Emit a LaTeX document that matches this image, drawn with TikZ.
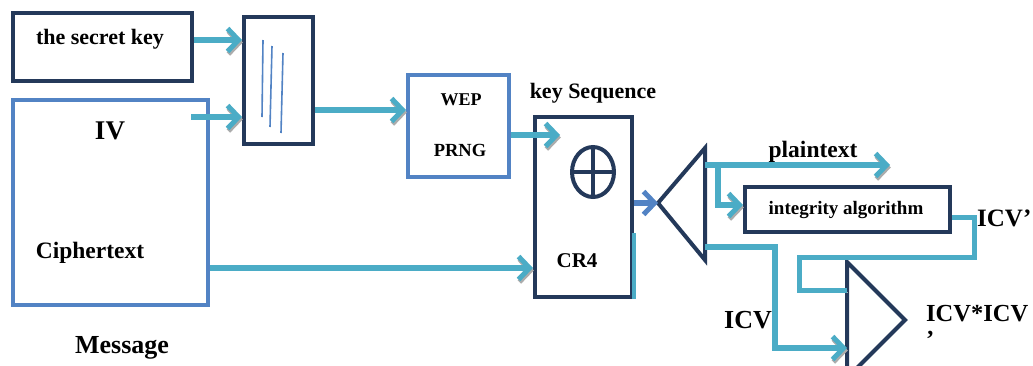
\documentclass[tikz,border=0pt]{standalone}
\usepackage{fontspec}
\setmainfont{Liberation Serif}
\usetikzlibrary{arrows.meta}
\definecolor{navy}{HTML}{24395A}
\definecolor{steel}{HTML}{5283C4}
\definecolor{teal}{HTML}{4BACC6}
\tikzset{
  darkbox/.style={draw=navy, line width=4pt, fill=white, minimum width=#1},
  lightbox/.style={draw=steel, line width=4pt, fill=white},
  lbl/.style={font=\bfseries, inner sep=0pt, text=black},
  shadowed/.style={preaction={draw=gray!65, transform canvas={shift={(0.8pt,-2.5pt)}}}},
  arr/.style={draw=teal, line width=5.5pt, shadowed, -{Straight Barb[length=11pt,width=23pt,line width=5pt]}},
  wire/.style={draw=teal, line width=5pt, shadowed},
  tri/.style={draw=navy, line width=4pt, line join=miter},
  bar/.style={draw=steel, line width=1.6pt}
}
\begin{document}
\begin{tikzpicture}[x=1pt,y=-1pt]
\useasboundingbox (0,0) rectangle (1033,365);
% boxes
\node[darkbox=179pt, minimum height=68pt] (secret) at (102.5,47) {};
\node[lbl, font=\bfseries\fontsize{22}{26}\selectfont] (secrett) at (100,39) {the secret key};
\node[lightbox, minimum width=195pt, minimum height=205pt] (msg) at (110.5,202.5) {};
\node[lbl, font=\bfseries\fontsize{27}{30}\selectfont] (iv) at (110,131) {IV};
\node[lbl, font=\bfseries\fontsize{23.5}{26}\selectfont] (cipher) at (90,253) {Ciphertext};
\node[lbl, font=\bfseries\fontsize{26}{29}\selectfont] (message) at (122,348) {Message};
\node[darkbox=69pt, minimum height=127pt] (concat) at (278.5,80.5) {};
\draw[bar] (263,40) -- (262,117);
\draw[bar] (272,46) -- (270,127);
\draw[bar] (283,53) -- (281,133);
\node[lightbox, minimum width=101pt, minimum height=102pt] (wep) at (458.5,126) {};
\node[lbl, font=\bfseries\fontsize{18}{21}\selectfont] (wept) at (461,100) {WEP};
\node[lbl, font=\bfseries\fontsize{18.5}{21}\selectfont] (prng) at (460,150) {PRNG};
\node[lbl, font=\bfseries\fontsize{22}{25}\selectfont] (keyseq) at (593,93) {key Sequence};
\node[darkbox=97pt, minimum height=180pt] (cr4) at (583.5,207) {};
\draw[teal, line width=4pt] (cr4.north east |- 0,233) -- (cr4.south east);
\draw[navy, line width=4pt] (593,172) coordinate (xorc) ellipse [x radius=21pt, y radius=25pt];
\draw[navy, line width=4pt] (572,172) -- (614,172) (593,147) -- (593,197);
\node[lbl, font=\bfseries\fontsize{21}{24}\selectfont] (cr4t) at (577,261) {CR4};
% splitter triangle
\coordinate (sa) at (658,203);
\coordinate (st) at (705,148);
\coordinate (sb) at (705,260);
\draw[tri] (sa) -- (st) -- (sb) -- cycle;
\node[darkbox=205pt, minimum height=45pt] (integ) at (847.5,209.5) {};
\node[lbl, font=\bfseries\fontsize{19}{22}\selectfont] (integt) at (846,210) {integrity algorithm};
% comparator triangle
\coordinate (ct) at (847,262);
\coordinate (ca) at (905,320);
\coordinate (cb) at (847,378);
\draw[tri] (ct) -- (ca) -- (cb) -- cycle;
% labels
\node[lbl, font=\bfseries\fontsize{23.5}{26}\selectfont] (plain) at (813,152) {plaintext};
\node[lbl, font=\bfseries\fontsize{25}{27}\selectfont, anchor=west] (icvp) at (977,218) {ICV’};
\node[lbl, font=\bfseries\fontsize{26}{28}\selectfont] (icv) at (748,320) {ICV};
\node[lbl, font=\bfseries\fontsize{24.5}{26}\selectfont, anchor=west, align=left] (cmp) at (926,326) {ICV*ICV\\’};
% connectors
\coordinate (ivs) at (191,117);
\draw[arr] (secret.east |- 0,40) -- (concat.west |- 0,40);
\draw[arr] (ivs) -- (concat.west |- ivs);
\draw[arr] (concat.east |- 0,110) -- (wep.west |- 0,110);
\draw[arr] (wep.east |- 0,135) -- (560,135);
\draw[arr] (msg.east |- 0,268) -- (cr4.west |- 0,268);
\draw[draw=steel, line width=5.5pt, -{Straight Barb[length=11pt,width=23pt,line width=5pt]}] (cr4.east |- sa) -- (sa);
\coordinate (pe) at (890,165);
\draw[arr] (st |- pe) -- (pe);
\draw[arr] (718,165) -- (718,205) -- (integ.west |- 0,205);
\draw[wire] (integ.east |- 0,217) -- (974,217) -- (974,257) -- (799,257) -- (799,290) -- (ct |- 0,290);
\draw[arr] (sb |- 0,247) -- (775,247) -- (775,348) -- (ct |- 0,348);
\end{tikzpicture}
\end{document}
